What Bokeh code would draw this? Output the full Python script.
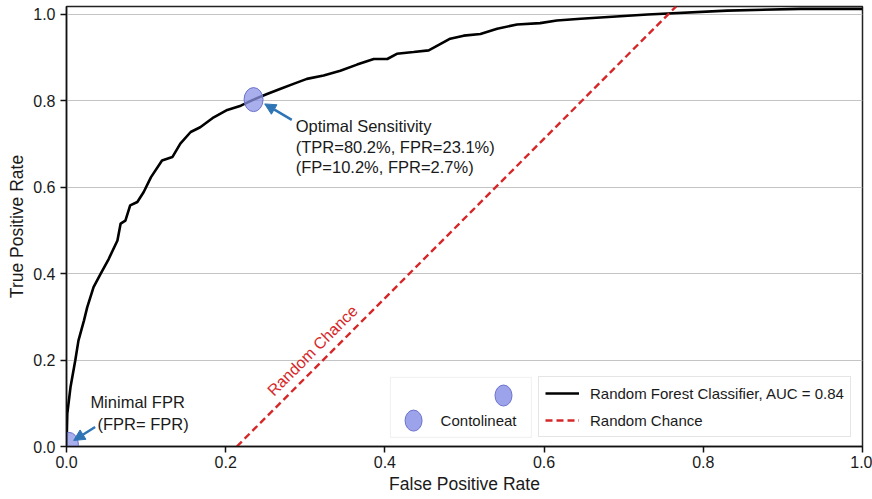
from bokeh.plotting import figure
from bokeh.models import (Range1d, FixedTicker, PrintfTickFormatter, Legend, LegendItem,
                          Label, Arrow, NormalHead, BoxAnnotation)
from bokeh.embed import file_html
from bokeh.resources import INLINE

# ROC curve
fpr = [0.0, 0.001, 0.005, 0.011, 0.015, 0.022, 0.026, 0.034, 0.043, 0.053, 0.064, 0.068,
       0.074, 0.080, 0.089, 0.097, 0.106, 0.120, 0.133, 0.143, 0.156, 0.168, 0.185, 0.202,
       0.219, 0.235, 0.252, 0.269, 0.286, 0.302, 0.323, 0.344, 0.365, 0.386, 0.403, 0.415,
       0.436, 0.455, 0.470, 0.482, 0.499, 0.520, 0.541, 0.566, 0.595, 0.616, 0.646, 0.730,
       0.830, 0.922, 1.0]
tpr = [0.0, 0.076, 0.137, 0.199, 0.245, 0.292, 0.322, 0.369, 0.400, 0.434, 0.477, 0.516,
       0.523, 0.558, 0.566, 0.589, 0.623, 0.662, 0.670, 0.701, 0.728, 0.739, 0.762, 0.779,
       0.789, 0.803, 0.816, 0.828, 0.840, 0.851, 0.859, 0.870, 0.884, 0.897, 0.897, 0.909,
       0.913, 0.917, 0.932, 0.944, 0.951, 0.955, 0.967, 0.977, 0.980, 0.986, 0.990, 1.000,
       1.009, 1.013, 1.013]

# random-chance line as drawn
chance_x = [0.214, 0.766]
chance_y = [0.0, 1.019]

# highlighted points
point_x = [0.235, 0.003]
point_y = [0.803, 0.005]

# legend markers (left box)
legend_marker_x = [0.549, 0.436]
legend_marker_y = [0.118, 0.060]

tick_values = [0.0, 0.2, 0.4, 0.6, 0.8, 1.0]

FONT = "Liberation Sans"
TXT = "#1a1a1a"
RED = "#d62728"
BLUE = "#2f75b5"
MFILL = "#8c93e6"
MLINE = "#6a72cc"

p = figure(width=872, height=499, output_backend="svg", toolbar_location=None,
           x_range=Range1d(0, 1.0), y_range=Range1d(0, 1.0185),
           min_border_left=66, min_border_right=10, min_border_top=6, min_border_bottom=53)

p.background_fill_color = "white"
p.border_fill_color = "white"
p.outline_line_color = "#222222"
p.outline_line_width = 1.5

p.xgrid.grid_line_color = None
p.ygrid.grid_line_color = "#c4c4c4"
p.ygrid.grid_line_width = 1

for ax in (p.xaxis[0], p.yaxis[0]):
    ax.ticker = FixedTicker(ticks=tick_values)
    ax.formatter = PrintfTickFormatter(format="%.1f")
    ax.axis_line_color = "#111111"
    ax.axis_line_width = 1.5
    ax.major_tick_line_color = "#111111"
    ax.major_tick_line_width = 1.5
    ax.major_tick_out = 6
    ax.major_tick_in = 0
    ax.minor_tick_line_color = None
    ax.major_label_text_font = FONT
    ax.major_label_text_font_size = "16px"
    ax.major_label_text_color = TXT
    ax.axis_label_text_font = FONT
    ax.axis_label_text_font_size = "17.5px"
    ax.axis_label_text_font_style = "normal"
    ax.axis_label_text_color = TXT

p.xaxis.axis_label = "False Positive Rate"
p.yaxis.axis_label = "True Positive Rate"
p.xaxis.major_label_standoff = 3
p.xaxis.axis_label_standoff = 3
p.yaxis.major_label_standoff = 5
p.yaxis.axis_label_standoff = 3

roc = p.line(fpr, tpr, line_color="black", line_width=2.6)
chance = p.line(chance_x, chance_y, line_color=RED, line_width=2.4, line_dash="7 4")

p.ellipse(x=point_x, y=point_y, width=19, height=24, width_units="screen", height_units="screen",
          fill_color=MFILL, fill_alpha=0.75, line_color=MLINE, line_width=1)

# arrows
p.add_layout(Arrow(end=NormalHead(size=11, fill_color=BLUE, line_color=BLUE),
                   x_start=0.283, y_start=0.756, x_end=0.249, y_end=0.793,
                   line_color=BLUE, line_width=2.5))
p.add_layout(Arrow(end=NormalHead(size=11, fill_color=BLUE, line_color=BLUE),
                   x_start=0.036, y_start=0.045, x_end=0.009, y_end=0.014,
                   line_color=BLUE, line_width=2.5))

def lab(x, y, t, **kw):
    opts = dict(text_font=FONT, text_font_size="16.5px", text_color=TXT,
                text_baseline="middle", text_align="left")
    opts.update(kw)
    p.add_layout(Label(x=x, y=y, text=t, **opts))

lab(0.288, 0.743, "Optimal Sensitivity")
lab(0.288, 0.694, "(TPR=80.2%, FPR=23.1%)")
lab(0.288, 0.648, "(FP=10.2%, FPR=2.7%)")
lab(0.030, 0.104, "Minimal FPR")
lab(0.039, 0.051, "(FPR= FPR)")
lab(0.309, 0.222, "Random Chance", text_color=RED, text_font_size="16px",
    text_align="center", angle=45, angle_units="deg")

# left (custom) legend box
p.add_layout(BoxAnnotation(left=0.407, right=0.584, bottom=0.021, top=0.160,
                           fill_alpha=0, line_color="#cccccc", line_width=1))
p.ellipse(x=legend_marker_x, y=legend_marker_y, width=17, height=21,
          width_units="screen", height_units="screen",
          fill_color=MFILL, fill_alpha=0.85, line_color=MLINE, line_width=1)
lab(0.470, 0.060, "Contolineat", text_font_size="15px")

legend = Legend(items=[LegendItem(label="Random Forest Classifier, AUC = 0.84", renderers=[roc]),
                       LegendItem(label="Random Chance", renderers=[chance])],
                location=(472, 9))
legend.border_line_color = "#cccccc"
legend.border_line_width = 1
legend.background_fill_alpha = 1
legend.label_text_font = FONT
legend.label_text_font_size = "15px"
legend.label_text_color = TXT
legend.glyph_width = 34
legend.glyph_height = 20
legend.label_height = 20
legend.label_standoff = 11
legend.spacing = 7
legend.padding = 6
legend.margin = 0
p.add_layout(legend)

open("out.html", "w").write(file_html(p, INLINE))
